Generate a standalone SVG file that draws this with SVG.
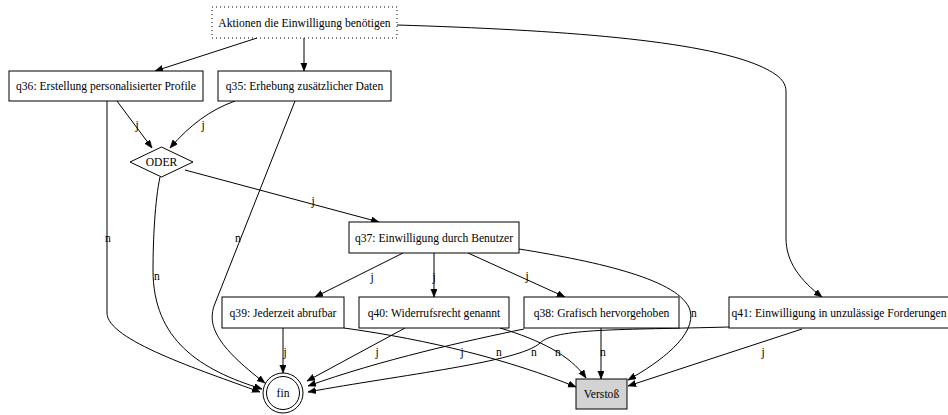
<svg xmlns="http://www.w3.org/2000/svg" width="948" height="415" viewBox="0 0 948 415">
  <style>
    text { font-family: "Liberation Serif", "Times New Roman", serif; font-size: 11.6px; fill: #000; text-anchor: middle; }
    .box { fill: #fff; stroke: #000; stroke-width: 1; }
    .dotted { fill: #fff; stroke: #000; stroke-width: 1; stroke-dasharray: 1 3; }
    .stop { fill: #d3d3d3; stroke: #000; stroke-width: 1; }
    .edge { fill: none; stroke: #000; stroke-width: 1; marker-end: url(#arrow); }
  </style>
  <defs>
    <marker id="arrow" markerUnits="userSpaceOnUse" markerWidth="9" markerHeight="7" refX="8" refY="3.2" orient="auto">
      <path d="M0,0 L8,3.2 L0,6.4 z" fill="#000" stroke="#000" stroke-width="0.5"/>
    </marker>
  </defs>
  <rect width="948" height="415" fill="#fff"/>

  <g id="edges">
    <path class="edge" d="M257,38 L155,71"/>
    <path class="edge" d="M304,38 L304,71"/>
    <path class="edge" d="M397,25 C560,30 700,40 760,66 C780,75 786,82 786,92 L786,238 C786,262 800,280 822,297"/>
    <path class="edge" d="M117,101 L152,148"/>
    <path class="edge" d="M235,101 C210,110 190,125 170,148"/>
    <path class="edge" d="M107,101 L107,313 C107,340 200,370 260,392"/>
    <path class="edge" d="M160,177 C155,200 153,240 153,270 C153,340 200,370 262,389"/>
    <path class="edge" d="M295,101 L214,306 C208,325 215,345 265,383"/>
    <path class="edge" d="M185,170 L379,222"/>
    <path class="edge" d="M403,253 L315,297"/>
    <path class="edge" d="M434,253 L434,297"/>
    <path class="edge" d="M468,253 L565,297"/>
    <path class="edge" d="M519,249 C600,262 680,280 690,310 C697,335 660,362 628,380"/>
    <path class="edge" d="M283,328 L283,373"/>
    <path class="edge" d="M344,328 C430,340 510,360 576,387"/>
    <path class="edge" d="M405,328 L307,381"/>
    <path class="edge" d="M500,328 C540,340 570,355 586,378"/>
    <path class="edge" d="M524,329 C470,340 380,360 308,386"/>
    <path class="edge" d="M601,328 L601,379"/>
    <path class="edge" d="M729,327 C620,330 555,328 540,343 C520,362 400,375 308,392"/>
    <path class="edge" d="M802,329 L628,386"/>

    <text x="137" y="129">j</text>
    <text x="203" y="129">j</text>
    <text x="108" y="242">n</text>
    <text x="157" y="280">n</text>
    <text x="238" y="242">n</text>
    <text x="313" y="205">j</text>
    <text x="372" y="281">j</text>
    <text x="434" y="281">j</text>
    <text x="527" y="280">j</text>
    <text x="694" y="317">n</text>
    <text x="285" y="356">j</text>
    <text x="377" y="356">j</text>
    <text x="462" y="356">j</text>
    <text x="499" y="356">n</text>
    <text x="534" y="356">n</text>
    <text x="558" y="356">n</text>
    <text x="603" y="356">n</text>
    <text x="763" y="356">j</text>
  </g>

  <g id="start">
    <rect class="dotted" x="212" y="7" width="185" height="31"/>
    <text x="304.5" y="26.5">Aktionen die Einwilligung benötigen</text>
  </g>
  <g id="q36">
    <rect class="box" x="9" y="71" width="194" height="30"/>
    <text x="106" y="90">q36: Erstellung personalisierter Profile</text>
  </g>
  <g id="q35">
    <rect class="box" x="218" y="71" width="173" height="30"/>
    <text x="304.5" y="90">q35: Erhebung zusätzlicher Daten</text>
  </g>
  <g id="oder">
    <polygon class="box" points="161.5,147 193,162 161.5,177 130,162"/>
    <text x="161.5" y="166">ODER</text>
  </g>
  <g id="q37">
    <rect class="box" x="349" y="222" width="170" height="31"/>
    <text x="434" y="241.5">q37: Einwilligung durch Benutzer</text>
  </g>
  <g id="q39">
    <rect class="box" x="222" y="297" width="122" height="31"/>
    <text x="283" y="316.5">q39: Jederzeit abrufbar</text>
  </g>
  <g id="q40">
    <rect class="box" x="359" y="297" width="150" height="31"/>
    <text x="434" y="316.5">q40: Widerrufsrecht genannt</text>
  </g>
  <g id="q38">
    <rect class="box" x="524" y="297" width="155" height="31"/>
    <text x="601.5" y="316.5">q38: Grafisch hervorgehoben</text>
  </g>
  <g id="q41">
    <rect class="box" x="729" y="297" width="220" height="31"/>
    <text x="839" y="316.5">q41: Einwilligung in unzulässige Forderungen</text>
  </g>
  <g id="fin">
    <circle class="box" cx="283" cy="393" r="20"/>
    <circle fill="none" stroke="#000" cx="283" cy="393" r="16.5"/>
    <text x="283" y="397">fin</text>
  </g>
  <g id="verstoss">
    <rect class="stop" x="576" y="379" width="51" height="30"/>
    <text x="601.5" y="398">Verstoß</text>
  </g>
</svg>
